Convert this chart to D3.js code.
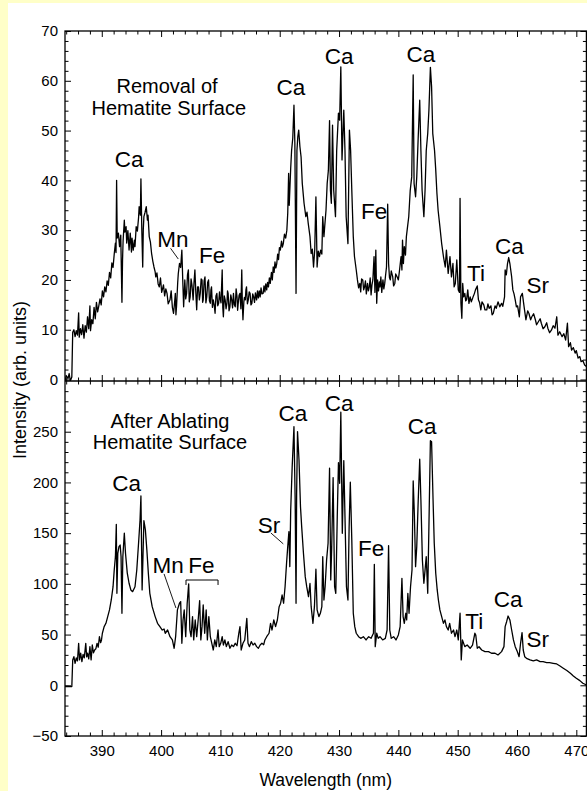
<!DOCTYPE html>
<html><head><meta charset="utf-8">
<script src="https://cdn.jsdelivr.net/npm/d3@7"></script>
<style>
html,body{margin:0;padding:0;background:#FFFFC8;}
svg{display:block;}
text{font-family:"Liberation Sans",Arial,sans-serif;fill:#000;}
</style></head>
<body>
<svg id="c" width="587" height="791"></svg>
<script>
// ---------------- data ----------------
const xTicksMajor = [390,400,410,420,430,440,450,460,470];
const topYTicks = [0,10,20,30,40,50,60,70];
const botYTicks = [-50,0,50,100,150,200,250];

// top panel: "Removal of Hematite Surface"  [wavelength nm, intensity]
const topSpectrum = [
[383.8,-0.3],[384.0,0.8],[384.3,0.2],[384.5,1.2],[384.7,-0.3],[384.95,0.5],[385.1,9.5],[385.3,10],[385.5,8.6],[385.7,9.8],
[385.9,8.9],[386.1,13.4],[386.2,8.5],[386.4,10.2],[386.6,9.0],[386.8,11.0],[387.0,8.3],[387.2,10.8],[387.4,9.5],[387.6,12.6],
[387.8,10.2],[388.0,14.8],[388.1,9.8],[388.3,12.0],[388.5,11.2],[388.7,14.5],[388.9,12.2],[389.1,15.5],[389.3,13.6],[389.5,14.8],
[389.7,16.2],[389.9,15.0],[390.1,17.8],[390.3,16.6],[390.5,18.6],[390.7,17.6],[390.9,19.8],[391.1,18.9],[391.3,21.5],[391.5,20.4],
[391.7,23.4],[391.9,22.5],[392.1,25.2],[392.3,27.4],[392.4,25.5],[392.5,40.0],[392.6,28.4],[392.8,29.4],[393.0,26.7],[393.2,29.0],
[393.4,15.5],[393.5,24],[393.6,28],[393.8,32],[393.9,29.6],[394.1,30.7],[394.2,27.4],[394.4,29.9],[394.6,26.0],[394.8,29.4],
[395.0,25.6],[395.1,28.4],[395.3,26.0],[395.5,28],[395.6,26.7],[395.8,30.7],[396.0,29.8],[396.2,32.5],[396.3,34.7],[396.5,33],
[396.6,40.3],[396.75,30],[396.9,22.6],[397.0,30.2],[397.1,32.7],[397.3,33.6],[397.5,34.7],[397.7,32],[397.8,33],[398.0,28.7],
[398.2,27.6],[398.4,25.3],[398.6,23.8],[398.8,22.6],[399.0,21.6],[399.1,20.6],[399.3,21.4],[399.5,19.2],[399.7,18.6],[399.9,20.4],
[400.1,17.5],[400.4,19],[400.6,16.8],[400.8,18.2],[401.0,17.3],[401.2,15.2],[401.5,16],[401.7,17.8],[401.9,14.5],[402.1,13.3],
[402.3,15.8],[402.4,17.3],[402.5,13.0],[402.6,14.6],[402.8,19.5],[402.9,21.3],[403.1,23.3],[403.3,22.5],[403.5,26.0],[403.65,20],
[403.8,14.6],[404.0,20],[404.15,16.2],[404.3,17.3],[404.45,21.0],[404.6,22],[404.75,15.6],[404.9,16.6],[405.05,20.2],[405.2,19],
[405.4,16],[405.55,19.5],[405.7,22],[405.85,17.5],[406.0,14],[406.15,18.6],[406.3,18.6],[406.45,16.0],[406.6,17.3],[406.75,20.2],
[406.9,20],[407.0,15.5],[407.1,16],[407.25,19.8],[407.4,20.6],[407.55,15.4],[407.7,16.6],[407.85,19.5],[408.0,20],[408.15,15.8],
[408.3,15.3],[408.4,18.0],[408.5,18.6],[408.65,14.5],[408.8,16],[408.95,15.0],[409.1,13.3],[409.25,16.8],[409.4,17.3],[409.55,14.8],
[409.7,15.3],[409.85,17.6],[409.9,16.6],[410.1,15.4],[410.3,22],[410.4,14.5],[410.5,12.6],[410.65,16.8],[410.8,16],[410.95,14.2],
[411.1,15.3],[411.2,17.8],[411.3,17.3],[411.45,13.8],[411.6,14.6],[411.75,17.0],[411.9,16],[412.05,14.4],[412.2,17.3],[412.35,15.0],
[412.5,14.6],[412.65,18.2],[412.8,16.6],[412.9,13.9],[413.0,15.3],[413.15,16.9],[413.3,17.3],[413.45,14.2],[413.6,22],[413.7,15.0],
[413.8,12],[413.95,15.6],[414.05,16.5],[414.2,16],[414.3,18.0],[414.4,18.6],[414.55,15.2],[414.7,16],[414.85,17.6],[415.0,17.3],
[415.15,15.0],[415.3,15.3],[415.45,17.2],[415.6,16.6],[415.75,15.5],[415.9,17.4],[416.1,16],[416.25,17.8],[416.4,16.4],[416.55,17.8],
[416.7,16.6],[416.85,18.4],[417.0,17.2],[417.2,17.3],[417.35,18.8],[417.5,17.6],[417.65,19.2],[417.8,18],[417.95,19.5],[418.1,18.6],
[418.25,20.4],[418.4,19.3],[418.6,21.5],[418.75,20.0],[418.9,22.6],[419.05,21.5],[419.2,23.6],[419.35,22.4],[419.5,23.3],[419.65,25.2],
[419.8,24.1],[419.95,26.5],[420.1,26],[420.3,27.8],[420.45,26.6],[420.6,27.3],[420.8,29.2],[421.0,28.4],[421.2,30],[421.35,33.4],
[421.5,41.4],[421.6,35],[421.7,38],[421.85,42.5],[422.0,46],[422.2,48.5],[422.4,55.1],[422.55,47.4],[422.75,17.3],[422.9,46],
[423.05,48.8],[423.2,50.1],[423.4,46.8],[423.6,44.7],[423.8,39.4],[424.1,35.4],[424.4,32.7],[424.6,33.6],[424.8,31.4],[425.1,28.7],
[425.3,25.3],[425.5,26.2],[425.7,22.6],[425.9,26],[426.1,36.7],[426.3,22.6],[426.5,25.8],[426.7,24.7],[426.9,26],[427.1,25.2],
[427.25,32.7],[427.45,28.7],[427.6,31.0],[427.8,34],[428.0,39.4],[428.2,42],[428.4,52],[428.55,38],[428.7,35.4],[428.9,51.1],
[429.1,38],[429.4,32.7],[429.6,46],[429.9,53.5],[430.1,52.1],[430.3,62.8],[430.5,44.1],[430.8,54.1],[431.0,46],[431.2,32.7],
[431.5,27.3],[431.75,50.1],[431.95,46],[432.15,38],[432.4,28.7],[432.6,24.7],[432.9,22],[433.1,20],[433.3,18.4],[433.5,19.3],
[433.65,17.6],[433.8,20.2],[434.0,20],[434.15,18.0],[434.3,18.6],[434.45,19.8],[434.6,17.2],[434.8,19.3],[434.95,17.8],[435.1,18.6],
[435.25,20.4],[435.4,17.0],[435.55,19.0],[435.7,20],[435.9,24.7],[436.05,17.5],[436.2,26],[436.35,15.3],[436.5,20],[436.65,17.8],
[436.8,19.6],[436.9,18.6],[437.05,20.6],[437.2,17.5],[437.4,20],[437.55,18.2],[437.7,19.3],[437.85,21.0],[438.0,22.6],[438.2,35.2],
[438.35,23.3],[438.5,20.5],[438.65,20],[438.8,21.8],[439.05,20.6],[439.2,18.8],[439.4,19.3],[439.55,21.2],[439.8,20.6],[440.0,20],
[440.2,22.0],[440.45,24.7],[440.6,22.0],[440.7,28],[440.85,23.3],[441.0,26.7],[441.2,25.0],[441.35,28.7],[441.55,30.7],[441.75,32.7],
[442.0,38],[442.25,40.7],[442.5,61.2],[442.65,39.4],[442.9,36.7],[443.1,40.7],[443.35,48.8],[443.6,56.1],[443.8,46],[444.0,38],
[444.3,32.7],[444.5,38],[444.7,46],[444.95,49.4],[445.15,54.1],[445.4,62.7],[445.6,58.8],[445.8,49.4],[446.1,46],[446.3,42.1],
[446.5,37.4],[446.7,34],[447.0,30.7],[447.3,27.3],[447.6,24.7],[447.9,22.6],[448.1,26],[448.4,21.3],[448.7,24.7],[448.95,20.6],
[449.2,23.3],[449.4,18.6],[449.6,19.3],[449.85,24],[450.1,18],[450.3,17.5],[450.4,36.4],[450.55,15.3],[450.7,12.3],[450.85,19.3],
[451.0,16.6],[451.2,17.3],[451.35,15.8],[451.5,16],[451.7,18.0],[451.9,15.3],[452.1,16.6],[452.3,15.6],[452.6,16.6],[452.8,17.2],
[453.0,18],[453.3,18.8],[453.5,16],[453.7,15.4],[453.9,14],[454.1,15.6],[454.4,15.0],[454.6,14.0],[454.9,14],[455.1,15.2],
[455.3,14.3],[455.6,14.8],[455.8,13.0],[456.0,13.3],[456.3,14.8],[456.5,14.3],[456.8,15.6],[457.1,14.6],[457.4,15.3],[457.6,14.7],
[457.9,16.6],[458.0,22],[458.2,21],[458.4,23.3],[458.6,24.5],[458.8,23.3],[459.1,20.6],[459.3,18],[459.5,17.2],[459.7,16],
[459.9,14.6],[460.1,14.8],[460.4,12.6],[460.6,16.6],[460.9,17.3],[461.2,14.6],[461.5,12],[461.8,13.8],[462.0,13.3],[462.3,12.0],
[462.5,12.6],[462.8,13.2],[463.1,12],[463.3,11.0],[463.6,11.6],[463.9,12.2],[464.1,11.3],[464.4,10.2],[464.7,10.6],[465.0,11.4],
[465.2,10.3],[465.5,9.4],[465.8,9.9],[466.1,10.8],[466.4,10.3],[466.7,12.6],[466.9,8.9],[467.2,9.6],[467.6,8.6],[467.9,9.2],
[468.2,7.9],[468.5,11.3],[468.7,6.6],[469.0,7.4],[469.2,5.9],[469.5,6.4],[469.8,5.3],[470.0,5.8],[470.3,4.3],[470.6,4.6],
[470.8,3.6],[471.1,3.8],[471.4,2.9],[471.7,2.6]
];

// bottom panel: "After Ablating Hematite Surface"
const bottomSpectrum = [
[383.8,-1.2],[384.2,-1.0],[384.6,-1.4],[384.95,-1.2],[385.1,25],[385.3,28.2],[385.5,21.7],[385.7,27],[385.9,24],[386.1,41.4],
[386.25,25],[386.45,31.6],[386.65,23.4],[386.85,30.5],[387.05,27],[387.3,41.4],[387.45,28],[387.6,31.6],[387.8,26],[388.0,38.1],
[388.2,25],[388.4,39.7],[388.6,32],[388.8,34.8],[389.0,36],[389.2,41.4],[389.4,37.5],[389.6,47.9],[389.8,42],[389.95,44.7],
[390.1,51.3],[390.4,57.8],[390.7,61.1],[391.0,67.7],[391.3,74.3],[391.6,84.1],[391.9,97.2],[392.1,113.7],[392.3,126.8],[392.45,158.7],
[392.55,90.7],[392.7,130],[392.9,136.7],[393.1,138.3],[393.25,126.8],[393.4,71],[393.55,126.8],[393.8,149.9],[394.0,130.2],[394.3,110.5],
[394.6,100.6],[394.9,94],[395.2,92.3],[395.6,97.2],[395.9,113.7],[396.2,140],[396.45,163],[396.6,186.7],[396.8,94],[397.1,162.3],
[397.35,153.2],[397.6,133.4],[397.85,110.5],[398.1,90.7],[398.5,77.5],[399.0,67.7],[399.4,61.1],[399.8,57.8],[400.2,54.5],[400.5,55.5],
[400.7,51.3],[401.1,54.5],[401.5,47.9],[401.9,44.7],[402.2,36.5],[402.45,47.9],[402.75,74.3],[403.1,80.9],[403.3,82.5],[403.5,41.4],
[403.7,64.4],[403.9,74.3],[404.15,47.9],[404.4,80.9],[404.65,100],[404.85,54.5],[405.05,47.9],[405.3,67.7],[405.5,44.7],[405.75,64.4],
[406.0,47.9],[406.25,64.4],[406.5,83.5],[406.7,44.7],[406.9,57.8],[407.1,79.2],[407.35,51.3],[407.6,74.3],[407.8,44.7],[408.05,67.7],
[408.3,47.9],[408.55,41.4],[408.8,34.8],[409.05,44.7],[409.3,38.1],[409.6,54.5],[409.8,38.1],[410.05,41.4],[410.3,47.9],[410.5,39.7],
[410.75,44.7],[411.0,38.1],[411.3,43],[411.6,36.5],[411.9,39.7],[412.2,38.1],[412.5,41.4],[412.8,39],[413.1,51.3],[413.3,57.8],
[413.5,34.8],[413.8,41.4],[414.1,44.7],[414.45,66],[414.65,41.4],[414.9,38.1],[415.2,43],[415.5,39.7],[415.8,41.4],[416.1,38.1],
[416.4,36.5],[416.7,39.7],[417.0,41.4],[417.3,40],[417.5,44.7],[417.8,47.9],[418.2,51.3],[418.45,61.1],[418.7,54.5],[419.0,64.4],
[419.3,57.8],[419.6,64.4],[419.9,77.5],[420.15,80.9],[420.4,89],[420.65,80.9],[420.9,97.2],[421.15,120.3],[421.35,136.7],[421.55,151.5],
[421.7,117],[421.85,172.9],[422.1,215.6],[422.4,255],[422.6,182.7],[422.75,80.9],[422.85,189.3],[423.0,250.1],[423.25,222.2],[423.5,176.1],
[423.7,156.4],[424.0,130.2],[424.3,107.1],[424.55,97.2],[424.85,87.4],[425.1,100.4],[425.3,77.5],[425.6,61.1],[425.85,77.5],[426.1,114.4],
[426.3,74.3],[426.6,67.7],[426.85,71],[427.1,77.5],[427.25,126.8],[427.45,84.1],[427.65,97.2],[427.9,123.6],[428.15,140],[428.4,214],
[428.6,103.9],[428.75,133.4],[429.0,204.8],[429.25,97.2],[429.45,90.7],[429.7,166.3],[429.9,219.5],[430.1,199.2],[430.3,269.2],[430.55,149.9],
[430.8,221.5],[431.0,166.3],[431.25,97.2],[431.5,84.1],[431.7,156.4],[431.9,200.2],[432.15,143.3],[432.4,71],[432.65,57.8],[432.9,51.3],
[433.3,47.9],[433.65,46.3],[434.1,47.9],[434.55,44.7],[435.0,47.9],[435.4,46.3],[435.8,51.3],[435.95,119.3],[436.1,38.1],[436.35,51.3],
[436.6,46.3],[436.9,47.9],[437.35,44.7],[437.8,46.3],[438.1,54.5],[438.35,137.7],[438.55,54.5],[438.8,46.3],[439.2,47.9],[439.6,44.7],
[440.0,49.6],[440.3,57.8],[440.6,105.5],[440.8,67.7],[441.0,61.1],[441.25,71],[441.4,64.4],[441.6,90.7],[441.8,71],[442.05,97.2],
[442.3,113.7],[442.5,201.5],[442.7,167.9],[442.9,117],[443.1,136.7],[443.35,182.7],[443.6,222.9],[443.8,182.7],[444.05,123.6],[444.3,100.6],
[444.5,113.7],[444.7,126.8],[444.95,90.7],[445.15,156.4],[445.4,241.2],[445.6,240.2],[445.85,182.7],[446.05,140],[446.3,110.5],[446.55,94],
[446.75,84.1],[447.0,74.3],[447.3,67.7],[447.6,61.1],[447.85,64.4],[448.1,57.8],[448.4,54.5],[448.65,61.1],[448.95,51.3],[449.3,54.5],
[449.55,47.9],[449.85,54.5],[450.1,44.7],[450.4,71],[450.6,25],[450.8,44.7],[451.2,38.1],[451.6,39.7],[452.1,36.5],[452.5,39.7],
[452.9,51.3],[453.05,49.6],[453.3,36.5],[453.6,38],[454.05,34.8],[454.6,33.2],[455.2,33.2],[455.7,31.6],[456.3,31.6],[456.8,29.9],
[457.4,33.2],[457.8,38.1],[458.0,57.8],[458.25,62.7],[458.5,68.3],[458.8,64.4],[459.1,54.5],[459.4,44.7],[459.7,38.1],[460.05,33.2],
[460.35,28.2],[460.6,41.4],[460.85,51.9],[461.05,34.8],[461.3,28.2],[461.6,26.6],[462.2,25],[462.75,24],[463.3,25],[463.9,23.3],
[464.4,23.3],[465.0,22.4],[465.5,22.4],[466.1,21.7],[466.7,21],[467.25,19],[467.8,16.8],[468.4,14.5],[469.0,11.8],[469.5,9.2],
[470.0,6.9],[470.6,4.6],[471.1,2],[471.7,0.3]
];

// annotations [text, wavelength, intensity, size]
const topLabels = [
["Removal of",401.0,57.5,20],["Hematite Surface",401.3,53.1,20],
["Ca",394.6,42.7,22.5],["Ca",421.9,57.1,22.5],["Ca",430.0,63.4,22.5],["Ca",443.8,63.8,22.5],
["Mn",402.0,26.6,22.5],["Fe",408.6,23.4,22.5],["Fe",435.9,32.2,22.5],["Ti",453.1,19.8,22.5],
["Ca",458.7,25.2,22.5],["Sr",463.5,17.4,22.5]
];
const bottomLabels = [
["After Ablating",401.5,253.7,20],["Hematite Surface",401.5,233,20],
["Ca",394.2,191.9,22.5],["Sr",418.2,150.5,22.5],["Ca",422.2,260.7,22.5],["Ca",430.0,270.5,22.5],["Ca",444.0,247.8,22.5],
["Fe",435.4,127.8,22.5],["Mn",401.2,110.7,22.5],["Fe",406.8,110.7,22.5],["Ti",452.8,55.5,22.5],["Ca",458.5,77.2,22.5],["Sr",463.5,38.1,22.5]
];
// leader lines [[wl1,v1],[wl2,v2]]
const topLeaders = [[[401.6,26.35],[402.9,24.2]]];
const bottomLeaders = [[[400.5,109.8],[402.5,76.2]],[[418.5,150.2],[420.6,139.4]]];
// bracket over Fe lines: [wlStart, wlEnd, v top, v ends]
const feBracket = [404.2,409.6,103.8,98.9];

// ---------------- drawing ----------------
const svg = d3.select("#c");
svg.append("rect").attr("x",8).attr("y",3).attr("width",579).attr("height",788).attr("fill","#fff");

const L=65, R=586.4, T=31, M=381, B=736;
const x = d3.scaleLinear().domain([383.8,471.7]).range([L,R]);
const yTop = d3.scaleLinear().domain([-0.3,70]).range([M,T]);
const yBot = d3.scaleLinear().domain([-50,300]).range([B,M]);

const defs = svg.append("defs");
defs.append("clipPath").attr("id","cpT").append("rect").attr("x",L).attr("y",T).attr("width",R-L).attr("height",M-T);
defs.append("clipPath").attr("id","cpB").append("rect").attr("x",L).attr("y",M).attr("width",R-L).attr("height",B-M);

const fontTick = 15;
const xMinor = d3.range(384,472,2).filter(v=>v%10!==0);

function xAxes(yPos, dir, labels){
  const mk = () => (dir<0? d3.axisBottom(x) : d3.axisTop(x));
  const g = svg.append("g").attr("transform",`translate(0,${yPos})`);
  g.call(mk().tickValues(xTicksMajor).tickSizeInner(-6).tickSizeOuter(0).tickPadding(9).tickFormat(labels? d3.format("d"):""));
  const g2 = svg.append("g").attr("transform",`translate(0,${yPos})`);
  g2.call(mk().tickValues(xMinor).tickSizeInner(-3.5).tickSizeOuter(0).tickFormat(""));
  [g,g2].forEach(q=>{q.select(".domain").remove(); q.selectAll("line").attr("stroke","#000").attr("stroke-width",1);});
  g.selectAll("text").attr("font-size",fontTick).attr("font-family","Liberation Sans, Arial, sans-serif").attr("fill","#000");
}
xAxes(T, 1, false);
xAxes(M, -1, false);
xAxes(M, 1, false);
xAxes(B, -1, true);

function yAxes(scale, major, minor){
  const gl = svg.append("g").attr("transform",`translate(${L},0)`);
  gl.call(d3.axisLeft(scale).tickValues(major).tickSizeInner(-6).tickSizeOuter(0).tickPadding(7).tickFormat(d3.format("d")));
  const gl2 = svg.append("g").attr("transform",`translate(${L},0)`);
  gl2.call(d3.axisLeft(scale).tickValues(minor).tickSizeInner(-3.5).tickSizeOuter(0).tickFormat(""));
  const gr = svg.append("g").attr("transform",`translate(${R},0)`);
  gr.call(d3.axisRight(scale).tickValues(major).tickSizeInner(-6).tickSizeOuter(0).tickFormat(""));
  const gr2 = svg.append("g").attr("transform",`translate(${R},0)`);
  gr2.call(d3.axisRight(scale).tickValues(minor).tickSizeInner(-3.5).tickSizeOuter(0).tickFormat(""));
  [gl,gl2,gr,gr2].forEach(q=>{q.select(".domain").remove(); q.selectAll("line").attr("stroke","#000").attr("stroke-width",1);});
  gl.selectAll("text").attr("font-size",fontTick).attr("font-family","Liberation Sans, Arial, sans-serif").attr("fill","#000");
}
yAxes(yTop, topYTicks, d3.range(2,70,2).filter(v=>v%10!==0));
yAxes(yBot, botYTicks, d3.range(-40,300,10).filter(v=>v%50!==0));

// spectra
const lineT = d3.line().x(d=>x(d[0])).y(d=>yTop(d[1]));
const lineB = d3.line().x(d=>x(d[0])).y(d=>yBot(d[1]));
svg.append("path").datum(topSpectrum).attr("clip-path","url(#cpT)").attr("d",lineT)
  .attr("fill","none").attr("stroke","#000").attr("stroke-width",1.3).attr("stroke-linejoin","round");
svg.append("path").datum(bottomSpectrum).attr("clip-path","url(#cpB)").attr("d",lineB)
  .attr("fill","none").attr("stroke","#000").attr("stroke-width",1.3).attr("stroke-linejoin","round");

// frame
svg.append("rect").attr("x",L).attr("y",T).attr("width",R-L).attr("height",B-T)
  .attr("fill","none").attr("stroke","#000").attr("stroke-width",1.3);
svg.append("line").attr("x1",L).attr("x2",R).attr("y1",M).attr("y2",M).attr("stroke","#000").attr("stroke-width",1.3);

// annotations
function labels(list, ys){
  svg.append("g").selectAll("text").data(list).join("text")
    .attr("x",d=>x(d[1])).attr("y",d=>ys(d[2])).attr("text-anchor","middle")
    .attr("font-size",d=>d[3]).text(d=>d[0]);
}
labels(topLabels, yTop);
labels(bottomLabels, yBot);
function leaders(list, ys){
  svg.append("g").selectAll("line").data(list).join("line")
    .attr("x1",d=>x(d[0][0])).attr("y1",d=>ys(d[0][1])).attr("x2",d=>x(d[1][0])).attr("y2",d=>ys(d[1][1]))
    .attr("stroke","#000").attr("stroke-width",0.9);
}
leaders(topLeaders, yTop);
leaders(bottomLeaders, yBot);
svg.append("path")
  .attr("d",`M${x(feBracket[0])},${yBot(feBracket[3])}V${yBot(feBracket[2])}H${x(feBracket[1])}V${yBot(feBracket[3])}`)
  .attr("fill","none").attr("stroke","#000").attr("stroke-width",1);

// axis titles
svg.append("text").attr("x",(L+R)/2).attr("y",786).attr("text-anchor","middle").attr("font-size",17.5).text("Wavelength (nm)");
svg.append("text").attr("transform",`translate(26,${380}) rotate(-90)`).attr("text-anchor","middle").attr("font-size",18).text("Intensity (arb. units)");
</script>
</body></html>
